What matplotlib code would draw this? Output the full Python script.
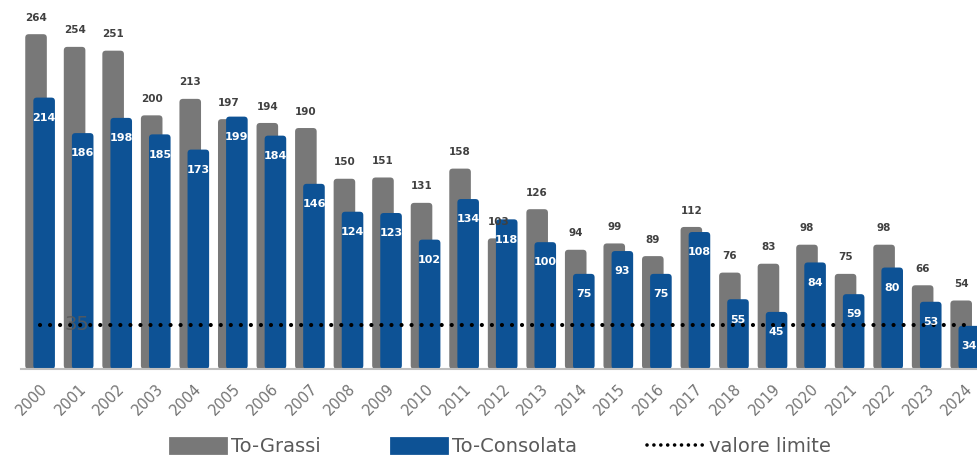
import matplotlib
matplotlib.use("Agg")
import matplotlib.pyplot as plt
from matplotlib.patches import FancyBboxPatch, Patch
from matplotlib.lines import Line2D
import numpy as np

years = [str(y) for y in range(2000, 2025)]
grassi = [264, 254, 251, 200, 213, 197, 194, 190, 150, 151, 131, 158, 103,
          126, 94, 99, 89, 112, 76, 83, 98, 75, 98, 66, 54]
consolata = [214, 186, 198, 185, 173, 199, 184, 146, 124, 123, 102, 134, 118,
             100, 75, 93, 75, 108, 55, 45, 84, 59, 80, 53, 34]
limite = 35

GREY = "#787878"
BLUE = "#0d5295"
DOTS = (0, (0.01, 2.4))

plt.rcParams['font.family'] = ['DejaVu Sans']

fig = plt.figure(figsize=(9.77, 4.57), dpi=100)
ax = fig.add_axes([0.0215, 0.1926, 0.9785, 0.777])
ax.set_xlim(-0.49, 24.31)
ax.set_ylim(0, 280)

x = np.arange(len(years))
w = 0.56
# aspect correction so the rounded corners stay circular in pixels
px_x = 956 / 24.8
px_y = 355 / 280
aspect = px_x / px_y
r = 3.5 / px_x


def rounded_bars(xs, vals, color, z):
    for xi, v in zip(xs, vals):
        p = FancyBboxPatch((xi - w / 2, 0), w, v,
                           boxstyle=f"round,pad=0,rounding_size={r}",
                           mutation_aspect=aspect, fc=color, ec="none",
                           zorder=z)
        ax.add_patch(p)


rounded_bars(x - 0.1, grassi, GREY, 2)
rounded_bars(x + 0.11, consolata, BLUE, 3)

for xi, v in zip(x - 0.1, grassi):
    ax.text(xi, v + 9, str(v), ha='center', va='bottom', fontsize=7.5,
            fontweight='bold', color='#404040', zorder=5)
for xi, v in zip(x + 0.11, consolata):
    ax.text(xi, v - 16, str(v), ha='center', va='center', fontsize=8,
            fontweight='bold', color='white', zorder=5)

ax.plot(x, [limite] * len(x), color='black', ls=DOTS, lw=3,
        dash_capstyle='round', zorder=4)
ax.text(0.95, limite, str(limite), ha='center', va='center', fontsize=14,
        color='#5a5a5a', alpha=0.85, zorder=3.5)

for s in ['top', 'right', 'left']:
    ax.spines[s].set_visible(False)
ax.spines['bottom'].set_color('#bfbfbf')
ax.spines['bottom'].set_linewidth(1.5)
ax.spines['bottom'].set_zorder(6)
ax.set_yticks([])
ax.set_xticks(x)
ax.set_xticklabels(years, rotation=45, ha='right', rotation_mode='anchor',
                   fontsize=10.5, color='#747474')
ax.tick_params(axis='x', length=0, pad=9)

handles = [
    Patch(fc=GREY, ec=GREY, lw=2, joinstyle='round', label='To-Grassi'),
    Patch(fc=BLUE, ec=BLUE, lw=2, joinstyle='round', label='To-Consolata'),
    Line2D([0], [0], color='black', ls=(0, (0.01, 1.9)), lw=2.6,
           dash_capstyle='round', label='valore limite'),
]
fig.legend(handles=handles, loc='center', bbox_to_anchor=(0.512, 0.022),
           ncol=3, frameon=False, fontsize=14, handlelength=2.9,
           handleheight=0.85, handletextpad=0.25, columnspacing=3.6,
           labelcolor='#5a5a5a')

fig.savefig("out.png", dpi=100)
